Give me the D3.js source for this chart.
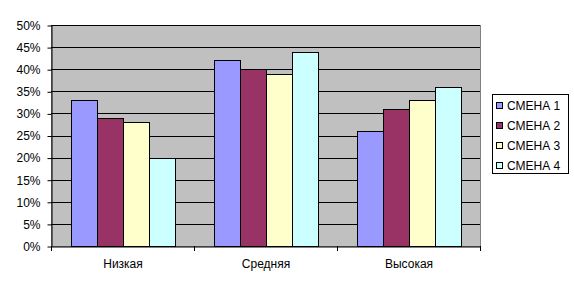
<!DOCTYPE html>
<html><head><meta charset="utf-8">
<script src="https://cdn.jsdelivr.net/npm/d3@7"></script>
<style>body{margin:0;background:#fff}svg{display:block;font-family:"Liberation Sans",Arial,sans-serif}</style>
</head><body><svg id="c" width="574" height="289"></svg>
<script>
const categories = ["Низкая", "Средняя", "Высокая"];
const seriesNames = ["СМЕНА 1", "СМЕНА 2", "СМЕНА 3", "СМЕНА 4"];
const smena1 = [0.33, 0.42, 0.26];
const smena2 = [0.29, 0.40, 0.31];
const smena3 = [0.28, 0.39, 0.33];
const smena4 = [0.20, 0.44, 0.36];
const yTicks = [0, 0.05, 0.10, 0.15, 0.20, 0.25, 0.30, 0.35, 0.40, 0.45, 0.50];
const colors = ["#9999FF", "#993366", "#FFFFCC", "#CCFFFF"];
const series = [smena1, smena2, smena3, smena4];

const svg = d3.select("#c");
const L = 51, R = 480, T = 25, B = 246;
const x = d3.scaleBand().domain(categories).range([L, R]).paddingInner(0).paddingOuter(0);
const xs = d3.scaleBand().domain(seriesNames).range([0, x.bandwidth()]).paddingInner(0).paddingOuter(0.75);
const y = d3.scaleLinear().domain([0, 0.5]).range([B, T]);

svg.append("rect").attr("x", L).attr("y", T).attr("width", R - L).attr("height", B - T)
  .attr("fill", "#C0C0C0").attr("stroke", "#808080").attr("stroke-width", 1)
  .attr("shape-rendering", "crispEdges");

svg.append("g").selectAll("line").data(yTicks.slice(1)).join("line")
  .attr("x1", L).attr("x2", R).attr("y1", d => Math.round(y(d)) + 0.5).attr("y2", d => Math.round(y(d)) + 0.5)
  .attr("stroke", "#000").attr("stroke-width", 1);

const g = svg.append("g");
series.forEach((s, i) => {
  g.selectAll(null).data(s).join("rect")
    .attr("x", (d, j) => Math.round(x(categories[j]) + xs(seriesNames[i])) + 0.5)
    .attr("y", d => Math.round(y(d)) + 0.5)
    .attr("width", Math.round(xs.bandwidth()))
    .attr("height", d => Math.round(B - y(d)))
    .attr("fill", colors[i]).attr("stroke", "#000").attr("stroke-width", 1);
});

const yAxis = svg.append("g").attr("transform", `translate(${L + 0.5},0.5)`)
  .call(d3.axisLeft(y).tickValues(yTicks).tickFormat(d3.format(".0%")).tickSize(4).tickSizeOuter(0));
yAxis.select(".domain").attr("stroke", "#000");
yAxis.selectAll("text").attr("font-size", 12).attr("fill", "#000").attr("x", -11).attr("font-family", "Liberation Sans, Arial, sans-serif");

const xAxis = svg.append("g").attr("transform", `translate(0.5,${B + 0.5})`)
  .call(d3.axisBottom(x).tickSize(0).tickSizeOuter(0));
xAxis.select(".domain").attr("stroke", "#000");
xAxis.selectAll("text").attr("font-size", 12).attr("fill", "#000").attr("dy", "0").attr("y", 21).attr("font-family", "Liberation Sans, Arial, sans-serif");
const bounds = categories.map(c => x(c)).concat([R]);
svg.append("g").selectAll("line").data(bounds).join("line")
  .attr("x1", d => Math.round(d) + 0.5).attr("x2", d => Math.round(d) + 0.5)
  .attr("y1", B).attr("y2", B + 5).attr("stroke", "#000");

const lg = svg.append("g").attr("transform", "translate(492,94)");
lg.append("rect").attr("x", 0.5).attr("y", 0.5).attr("width", 76).attr("height", 79)
  .attr("fill", "#fff").attr("stroke", "#000");
seriesNames.forEach((n, i) => {
  const cy = 11.7 + i * 20;
  lg.append("rect").attr("x", 4.5).attr("y", Math.round(cy - 3.5) + 0.5).attr("width", 6).attr("height", 6)
    .attr("fill", colors[i]).attr("stroke", "#000");
  lg.append("text").attr("x", 15).attr("y", cy + 4.5).attr("font-size", 12).attr("fill", "#000").text(n);
});
</script></body></html>
